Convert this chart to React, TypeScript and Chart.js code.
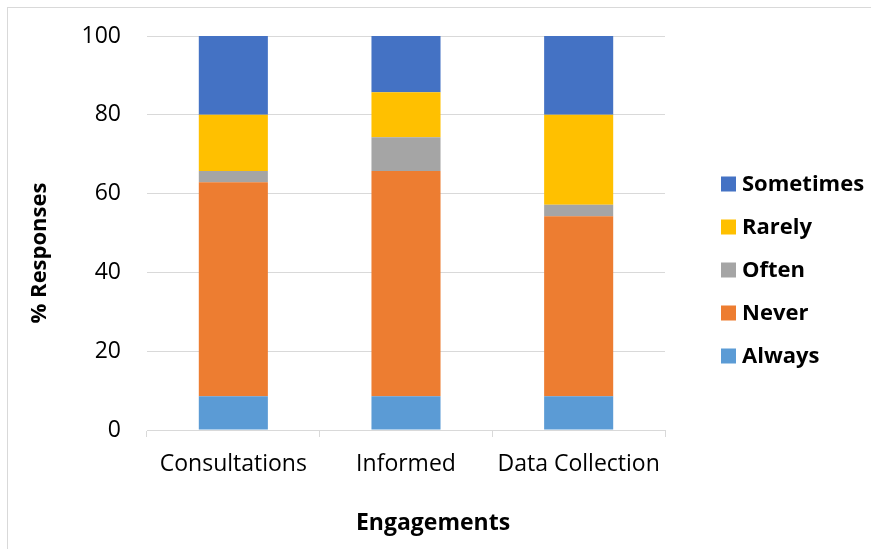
import React, { useEffect, useRef } from "react";
import { Chart, registerables } from "chart.js";

Chart.register(...registerables);

const categories = ["Consultations", "Informed", "Data Collection"];
const always = [8.57, 8.57, 8.57];
const never = [54.29, 57.14, 45.71];
const often = [2.86, 8.57, 2.86];
const rarely = [14.29, 11.43, 22.86];
const sometimes = [20.0, 14.29, 20.0];
const yTicks = [0, 20, 40, 60, 80, 100];
const xTitle = "Engagements";
const yTitle = "% Responses";

const FONT = '"Open Sans", "Liberation Sans", sans-serif';

const axisTitles = {
  id: "axisTitles",
  afterDraw(chart: any) {
    const { ctx, chartArea } = chart;
    ctx.save();
    ctx.fillStyle = "#000";
    ctx.textAlign = "center";
    ctx.textBaseline = "middle";
    ctx.font = `bold 23px ${FONT}`;
    const cx = (chartArea.left + chartArea.right) / 2 + 27;
    ctx.fillText(xTitle, cx, chartArea.bottom + 93);
    ctx.font = `bold 22px ${FONT}`;
    const cy = (chartArea.top + chartArea.bottom) / 2 + 20;
    ctx.translate(40, cy);
    ctx.rotate(-Math.PI / 2);
    ctx.fillText(yTitle, 0, 0);
    ctx.restore();
  },
};

const sideLegend = {
  id: "sideLegend",
  afterDraw(chart: any) {
    const { ctx, chartArea } = chart;
    const ds = chart.data.datasets.slice().reverse();
    const step = 43;
    const x0 = chartArea.right + 56;
    const midY = (chartArea.top + chartArea.bottom) / 2 + 37;
    const y0 = midY - ((ds.length - 1) * step) / 2;
    ctx.save();
    ctx.font = `bold 22px ${FONT}`;
    ctx.textAlign = "left";
    ctx.textBaseline = "middle";
    ds.forEach((d: any, i: number) => {
      const cy = y0 + i * step;
      ctx.fillStyle = d.backgroundColor;
      ctx.fillRect(x0, cy - 7.5, 15, 15);
      ctx.fillStyle = "#000";
      ctx.fillText(d.label, x0 + 21, cy + 1);
    });
    ctx.restore();
  },
};

export default function App() {
  const ref = useRef<HTMLCanvasElement>(null);
  useEffect(() => {
    if (!ref.current) return;
    const chart = new Chart(ref.current, {
      type: "bar",
      data: {
        labels: categories,
        datasets: [
          { label: "Always", data: always, backgroundColor: "#5B9BD5" },
          { label: "Never", data: never, backgroundColor: "#ED7D31" },
          { label: "Often", data: often, backgroundColor: "#A5A5A5" },
          { label: "Rarely", data: rarely, backgroundColor: "#FFC000" },
          { label: "Sometimes", data: sometimes, backgroundColor: "#4472C4" },
        ],
      },
      options: {
        responsive: false,
        animation: false,
        layout: { padding: { top: 36, right: 206, left: 0, bottom: 0 } },
        datasets: { bar: { barPercentage: 0.4, categoryPercentage: 1 } },
        plugins: {
          tooltip: { enabled: false },
          legend: { display: false },
        },
        scales: {
          x: {
            stacked: true,
            afterFit: (s: any) => { s.height = 119; },
            grid: { display: true, drawOnChartArea: false, drawTicks: true, tickLength: 7, color: "#d9d9d9", offset: true },
            border: { display: true, color: "#d9d9d9" },
            ticks: { color: "#000", padding: 14, font: { family: FONT, size: 23 } },
          },
          y: {
            stacked: true,
            min: 0,
            max: 100,
            afterFit: (s: any) => { s.width = 147; s.paddingTop = 0; s.paddingBottom = 0; },
            afterBuildTicks: (s: any) => { s.ticks = yTicks.map((v) => ({ value: v })); },
            grid: { color: "#d9d9d9", drawTicks: false },
            border: { display: false },
            ticks: { color: "#000", padding: 26, font: { family: FONT, size: 23 } },
          },
        },
      },
      plugins: [axisTitles, sideLegend],
    });
    return () => chart.destroy();
  }, []);
  return (
    <div style={{ position: "fixed", left: 0, top: 0, width: 871, height: 549, overflow: "hidden", background: "#fff" }}>
      <div style={{ position: "absolute", left: 7, top: 7, width: 900, height: 600, border: "1px solid #d9d9d9" }} />
      <canvas ref={ref} width={871} height={549} style={{ position: "absolute", left: 0, top: 0, width: 871, height: 549 }} />
    </div>
  );
}
